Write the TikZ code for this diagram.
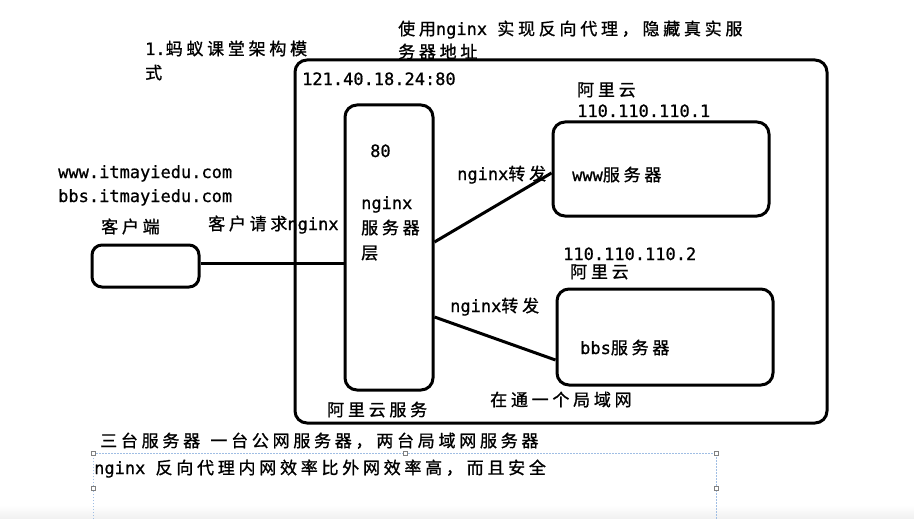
\documentclass[tikz,border=0pt]{standalone}
\usepackage{fontspec}
\setmainfont{DejaVu Sans Mono}[FakeBold=0.8]
\newfontfamily\cjkf{Noto Sans CJK SC}[LetterSpace=22,FakeBold=1]
\newcommand\zh[1]{{\cjkf #1}}
\definecolor{selblue}{RGB}{160,190,228}
\begin{document}
\begin{tikzpicture}[x=1pt,y=-1pt,
  txt/.style={anchor=base west,inner sep=0pt,font=\fontsize{17}{20}\selectfont},
  box/.style={draw,line width=3pt,rounded corners=12pt,inner sep=0pt},
  link/.style={line width=3pt},
  handle/.style={draw=gray,fill=white,line width=0.6pt,minimum size=4pt,inner sep=0pt}]
\useasboundingbox (0,0) rectangle (914,519);
\fill[white] (0,0) rectangle (914,519);
\shade[top color=white,bottom color=gray!12] (0,505) rectangle (914,519);

% boxes
\node[box,minimum width=532pt,minimum height=363pt] (outer) at (561,241.5) {};
\node[box,minimum width=88pt,minimum height=285pt] (nginx) at (389,247.5) {};
\node[box,rounded corners=10pt,minimum width=107pt,minimum height=42pt] (client) at (145.5,266) {};
\node[box,minimum width=216pt,minimum height=94pt] (www) at (661,169) {};
\node[box,minimum width=216pt,minimum height=96pt] (bbs) at (665,337) {};

% connectors
\coordinate (cl) at ([yshift=3pt]client.east);
\draw[link] (cl) -- (cl -| nginx.west);
\draw[link] ([yshift=5.5pt]nginx.east) -- ([yshift=-4pt]www.west);
\draw[link] ([yshift=-69.5pt]nginx.east) -- ([yshift=-23pt]bbs.west);

% texts
\node[txt] (t1) at (145,55) {1.\zh{蚂蚁课堂架构模}};
\node[txt] (t1b) at (145,79) {\zh{式}};
\node[txt] (t2) at (398,35) {\zh{使用}nginx \zh{实现反向代理，隐藏真实服}};
\node[txt] (t2b) at (398,58) {\zh{务器地址}};
\node[txt] (ip) at (302,85) {121.40.18.24:80};
\node[txt] (aly1) at (577,96) {\zh{阿里云}};
\node[txt] (ip1) at (577,117) {110.110.110.1};
\node[txt] (p80) at (370,157) {80};
\node[txt] (ng1) at (361,209) {nginx};
\node[txt] (ng2) at (361,234) {\zh{服务器}};
\node[txt] (ng3) at (361,259) {\zh{层}};
\node[txt] (fw1) at (457,180) {nginx\zh{转发}};
\node[txt] (wwwt) at (572,181) {www\zh{服务器}};
\node[txt] (dom1) at (58,178) {www.itmayiedu.com};
\node[txt] (dom2) at (58,202) {bbs.itmayiedu.com};
\node[txt] (kh) at (101,233) {\zh{客户端}};
\node[txt] (req) at (208,230) {\zh{客户请求}nginx};
\node[txt] (ip2) at (563,260) {110.110.110.2};
\node[txt] (aly2) at (570,278) {\zh{阿里云}};
\node[txt] (fw2) at (450,312) {nginx\zh{转发}};
\node[txt] (bbst) at (580,354) {bbs\zh{服务器}};
\node[txt] (lan) at (490,406) {\zh{在通一个局域网}};
\node[txt] (alys) at (327,416) {\zh{阿里云服务}};
\node[txt] (note1) at (100,447) {\zh{三台服务器} \zh{一台公网服务器，两台局域网服务器}};
\node[txt] (note2) at (94,474) {nginx \zh{反向代理内网效率比外网效率高，而且安全}};

% selection frame
\draw[selblue,line width=0.8pt,dash pattern=on 1.5pt off 1.5pt] (93,519) -- (93,453) -- (716,453) -- (716,519);
\node[handle] (h1) at (93,453) {};
\node[handle] (h2) at (405,453) {};
\node[handle] (h3) at (716,453) {};
\node[handle] (h4) at (93,488) {};
\node[handle] (h5) at (716,488) {};
\end{tikzpicture}
\end{document}
